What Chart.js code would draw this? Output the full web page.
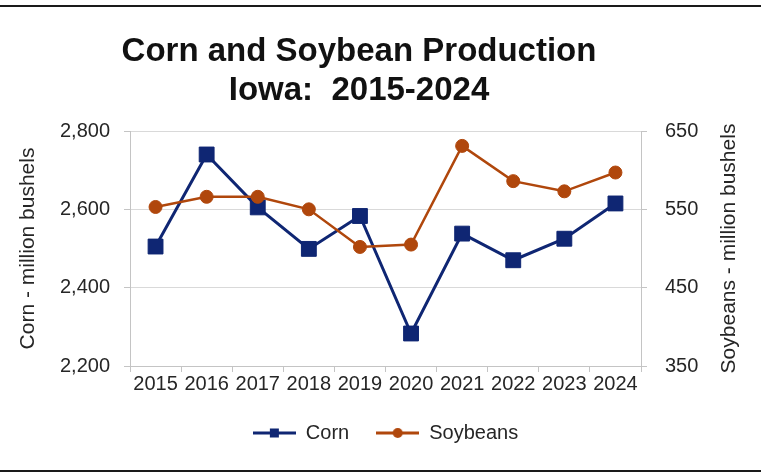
<!DOCTYPE html>
<html><head><meta charset="utf-8">
<script src="https://cdn.jsdelivr.net/npm/chart.js@4.4.1/dist/chart.umd.min.js"></script>
<style>
html,body{margin:0;padding:0;background:#fff;overflow:hidden;width:761px;height:473px;}
#wrap{position:relative;width:761px;height:473px;overflow:hidden;background:#fff;}
#c{position:absolute;left:-24px;top:0;}
.rule{position:absolute;left:0;width:761px;height:2px;background:#1a1a1a;}
</style></head><body>
<div id="wrap">
<canvas id="c" width="766" height="473"></canvas>
<div class="rule" style="top:5px"></div>
<div class="rule" style="top:470px"></div>
</div>
<script>
// ---- data ----
const years = ['2015','2016','2017','2018','2019','2020','2021','2022','2023','2024'];
const corn = [2505, 2740, 2605, 2499, 2583, 2283, 2538, 2470, 2525, 2615];
const soybeans = [553, 566, 566, 550, 502, 505, 631, 586, 573, 597];
const cornTicks = [2200, 2400, 2600, 2800];
const soyTicks = [350, 450, 550, 650];
const titleLines = ['Corn and Soybean Production', 'Iowa:  2015-2024'];
const cornAxisTitle = 'Corn - million bushels';
const soyAxisTitle = 'Soybeans - million bushels';
const seriesNames = ['Corn', 'Soybeans'];

// ---- styles ----
const NAVY = '#0f2673';
const RUST = '#b0470c';
const FONT = '"Liberation Sans", Arial, Helvetica, sans-serif';
const TXT = '#262626';
const GRID = '#d9d9d9';
const AXIS = '#c4c4c4';

function legendIcon(color, shape) {
  const c = document.createElement('canvas');
  c.width = 43; c.height = 14;
  const x = c.getContext('2d');
  x.strokeStyle = color; x.lineWidth = 3;
  x.beginPath(); x.moveTo(0, 7); x.lineTo(43, 7); x.stroke();
  x.fillStyle = color;
  if (shape === 'rect') { x.fillRect(17, 2.5, 9, 9); }
  else { x.beginPath(); x.arc(21.5, 7, 5, 0, Math.PI * 2); x.fill(); }
  return c;
}
const icons = [legendIcon(NAVY, 'rect'), legendIcon(RUST, 'circle')];

const rightTitle = {
  id: 'rightTitle',
  afterDraw(chart) {
    const s = chart.scales.y1;
    const ctx = chart.ctx;
    ctx.save();
    ctx.translate(s.right - 12.6, (chart.chartArea.top + chart.chartArea.bottom) / 2);
    ctx.rotate(-Math.PI / 2);
    ctx.font = '21px ' + FONT;
    ctx.fillStyle = TXT;
    ctx.textAlign = 'center';
    ctx.textBaseline = 'middle';
    ctx.fillText(soyAxisTitle, 0, 0);
    ctx.restore();
  }
};

new Chart(document.getElementById('c'), {
  type: 'line',
  data: {
    labels: years,
    datasets: [
      {
        label: seriesNames[0], data: corn, yAxisID: 'y', order: 1,
        borderColor: NAVY, backgroundColor: NAVY, borderWidth: 3,
        pointStyle: 'rect', pointRadius: 10.5, pointBorderWidth: 1,
        pointBorderColor: NAVY, pointBackgroundColor: NAVY, tension: 0
      },
      {
        label: seriesNames[1], data: soybeans, yAxisID: 'y1', order: 0,
        borderColor: RUST, backgroundColor: RUST, borderWidth: 2.5,
        pointStyle: 'circle', pointRadius: 6.5, pointBorderWidth: 1,
        pointBorderColor: RUST, pointBackgroundColor: RUST, tension: 0
      }
    ]
  },
  options: {
    responsive: false,
    devicePixelRatio: 1,
    animation: false,
    events: [],
    layout: { padding: { left: 0, right: 0, top: 0, bottom: 20 } },
    plugins: {
      tooltip: { enabled: false },
      title: {
        display: true,
        text: titleLines,
        color: '#111',
        font: { family: FONT, size: 33, weight: 'bold', lineHeight: 1.2 },
        padding: { top: 32, bottom: 19.8 }
      },
      legend: {
        display: true,
        position: 'bottom',
        fullSize: false,
        labels: {
          usePointStyle: true,
          pointStyleWidth: 43,
          padding: 27,
          color: TXT,
          font: { family: FONT, size: 20 },
          generateLabels: () => seriesNames.map((n, i) => ({
            text: n, pointStyle: icons[i], fillStyle: 'transparent',
            strokeStyle: 'transparent', lineWidth: 0, hidden: false,
            datasetIndex: i, fontColor: TXT
          }))
        }
      }
    },
    scales: {
      x: {
        type: 'category',
        offset: true,
        grid: { offset: true, drawOnChartArea: false, drawTicks: true, tickLength: 6, color: AXIS },
        border: { display: true, color: AXIS },
        ticks: { color: TXT, font: { family: FONT, size: 20 }, padding: 0, maxRotation: 0, autoSkip: false }
      },
      y: {
        position: 'left',
        min: cornTicks[0], max: cornTicks[cornTicks.length - 1],
        afterFit: s => { s.width = 154; },
        grid: { color: GRID, tickLength: 6, tickColor: AXIS },
        border: { display: true, color: AXIS },
        ticks: {
          stepSize: cornTicks[1] - cornTicks[0],
          color: TXT, font: { family: FONT, size: 20 }, padding: 14,
          callback: v => v.toLocaleString('en-US')
        },
        title: {
          display: true, text: cornAxisTitle, color: TXT,
          font: { family: FONT, size: 21, lineHeight: 1.2 },
          padding: { top: 39.4, bottom: 19.4 }
        }
      },
      y1: {
        position: 'right',
        min: soyTicks[0], max: soyTicks[soyTicks.length - 1],
        afterFit: s => { s.width = 101; },
        grid: { drawOnChartArea: false, color: AXIS, tickLength: 6 },
        border: { display: true, color: AXIS },
        ticks: {
          stepSize: soyTicks[1] - soyTicks[0],
          color: TXT, font: { family: FONT, size: 20 }, padding: 18
        }
      }
    }
  },
  plugins: [rightTitle]
});
</script>
</body></html>
